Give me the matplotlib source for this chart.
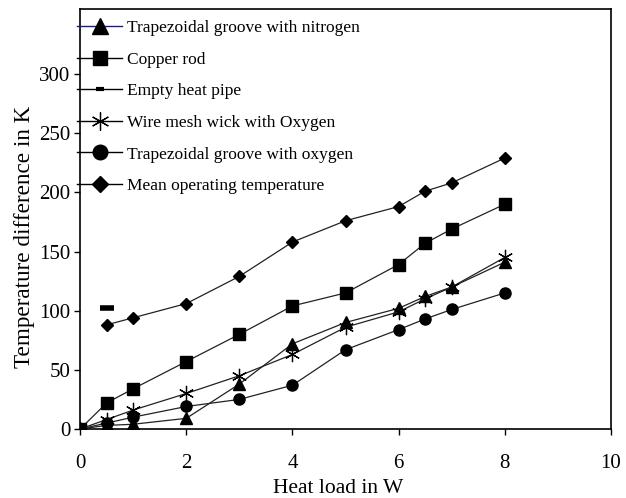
import numpy as np
import matplotlib
matplotlib.use("Agg")
import matplotlib.pyplot as plt
from matplotlib.lines import Line2D

plt.rcParams.update({"font.family": "Liberation Serif", "font.size": 12})

# heat load (W)
x_load = [0, 0.5, 1, 2, 3, 4, 5, 6, 6.5, 7, 8]

# temperature differences (K)
trap_n2 = [0, 3, 4, 9, 38, 72, 90, 102, 112, 120, 141]
copper = [0, 22, 34, 57, 80, 104, 115, 139, 157, 169, 190]
wire_o2 = [0, 8, 16, 30, 45, 63, 86, 99, 110, 120, 145]
trap_o2 = [0, 5, 10, 19, 25, 37, 67, 84, 93, 101, 115]
x_mean = [0.5, 1, 2, 3, 4, 5, 6, 6.5, 7, 8]
mean_temp = [88, 94, 106, 129, 158, 176, 188, 201, 208, 229]
x_empty = [0.5]
empty_pipe = [102]

labels = ["Trapezoidal groove with nitrogen", "Copper rod", "Empty heat pipe",
          "Wire mesh wick with Oxygen", "Trapezoidal groove with oxygen",
          "Mean operating temperature"]

fig = plt.figure(figsize=(6.26, 4.98), dpi=100)
ax = fig.add_axes([0.128, 0.1386, 0.848, 0.8434])

lc = "#222222"
ax.plot(x_load, trap_n2, color=lc, lw=0.9, marker="^", ms=8, mfc="black", mec="black")
ax.plot(x_load, copper, color=lc, lw=0.9, marker="s", ms=8.5, mfc="black", mec="black")
ax.plot(x_empty, empty_pipe, color=lc, lw=0.9, marker="_", ms=10, mew=4, mec="black")
ax.plot(x_load, wire_o2, color=lc, lw=0.9)
ax.plot(x_load, wire_o2, lw=0, marker=(6, 2, 0), ms=11, mew=0.9, mec="black")
ax.plot(x_load, trap_o2, color=lc, lw=0.9, marker="o", ms=8, mfc="black", mec="black")
ax.plot(x_mean, mean_temp, color=lc, lw=0.9, marker="D", ms=6, mfc="black", mec="black")

ax.set_xlim(0, 10)
ax.set_ylim(0, 355)
ax.set_xticks(range(0, 11, 2))
ax.set_yticks(range(0, 301, 50))
ax.tick_params(direction="out", length=4, width=1, labelsize=15)
ax.tick_params(axis="x", pad=14)
ax.tick_params(axis="y", pad=3)
for s in ax.spines.values():
    s.set_linewidth(1.2)
ax.set_xlabel("Heat load in W", fontsize=15.5, labelpad=4)
ax.set_ylabel("Temperature difference in K", fontsize=16.7, labelpad=3)
ax.xaxis.label.set_x(0.486)
ax.yaxis.label.set_y(0.457)

handles = [
    Line2D([], [], color="#1a1a8c", lw=1, marker="^", ms=11, mfc="black", mec="black"),
    Line2D([], [], color="black", lw=1, marker="s", ms=10.5, mfc="black", mec="black"),
    Line2D([], [], color="black", lw=1, marker="_", ms=6, mew=3, mec="black"),
    Line2D([], [], color="black", lw=1, marker=(6, 2, 0), ms=13, mew=0.9, mec="black"),
    Line2D([], [], color="black", lw=1, marker="o", ms=10.5, mfc="black", mec="black"),
    Line2D([], [], color="black", lw=1, marker="D", ms=8.5, mfc="black", mec="black"),
]
ax.legend(handles, labels, loc="upper left", bbox_to_anchor=(-0.012, 0.982),
          frameon=False, fontsize=12.5, handlelength=2.6, handletextpad=0.25,
          labelspacing=0.89, borderaxespad=0, borderpad=0.2)

fig.savefig("out.png", dpi=100)
